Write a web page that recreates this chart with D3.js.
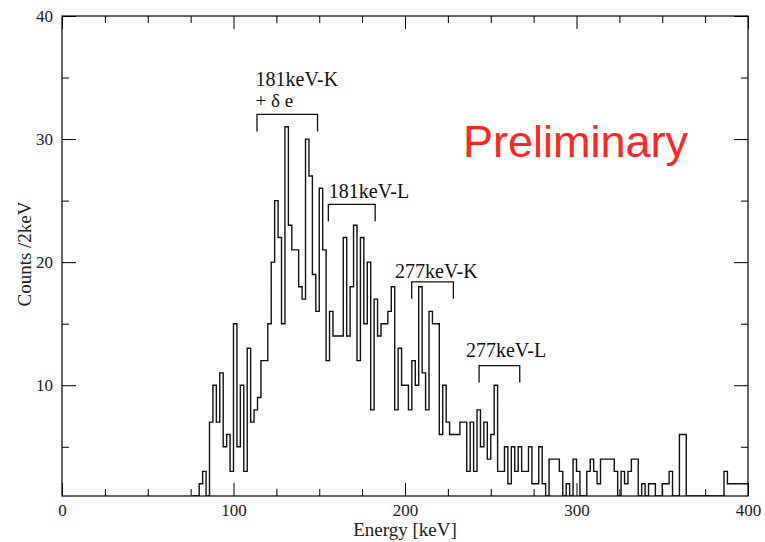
<!DOCTYPE html>
<html>
<head>
<meta charset="utf-8">
<script src="https://cdn.jsdelivr.net/npm/d3@7"></script>
<style>
  html, body { margin: 0; padding: 0; background: #fff; }
  svg { display: block; }
</style>
</head>
<body>
<svg id="chart" width="765" height="542"></svg>
<script>
// Energy spectrum, 2 keV bins starting at 76 keV
const binStart = 76;
const binWidth = 2;
const counts = [
  1, 1, 2, 3, 1, 7, 10, 7, 11, 5,          // 76 - 94
  6, 3, 15, 5, 10, 3, 13, 7, 8, 9,         // 96 - 114
  12, 12, 15, 20, 25, 22, 15, 31, 23, 21,  // 116 - 134
  21, 18, 17, 30, 27, 19, 16, 26, 21, 12,  // 136 - 154
  16, 14, 14, 14, 22, 14, 18, 23, 12, 22,  // 156 - 174
  15, 20, 8, 17, 14, 15, 15, 16, 18, 8,    // 176 - 194
  13, 10, 10, 8, 12, 10, 18, 11, 8, 16,    // 196 - 214
  15, 15, 6, 10, 7, 6, 6, 6, 7, 7,         // 216 - 234
  3, 7, 3, 8, 5, 7, 4, 6, 10, 3,           // 236 - 254
  3, 5, 2, 5, 3, 5, 3, 3, 5, 2,            // 256 - 274
  2, 5, 2, 1, 4, 4, 4, 3, 1, 2,            // 276 - 294
  1, 4, 3, 1, 1, 3, 4, 3, 2, 4,            // 296 - 314
  4, 4, 4, 3, 1, 3, 2, 3, 4, 4,            // 316 - 334
  1, 2, 1, 2, 2, 1, 1, 2, 2, 3,            // 336 - 354
  1, 1, 6, 6, 1, 1, 1, 1, 1, 1,            // 356 - 374
  1, 1, 1, 1, 1, 3, 2, 2, 2, 2,            // 376 - 394
  2, 2                                     // 396 - 398
];

const xTicks = [0, 100, 200, 300, 400];
const xMinorTicks = [25, 50, 75, 125, 150, 175, 225, 250, 275, 325, 350, 375];
const yTicks = [10, 20, 30, 40];
const yMinorTicks = [5, 15, 25, 35];

// Peak group annotations: bracket span in keV, bracket and text baselines in counts
const peakLabels = [
  { lines: [["181keV-K", 34.3, 20], ["+ \u03b4 e", 32.6, 19]], x0: 113.7, x1: 149, y: 32.0, tx: 112.9 },
  { lines: [["181keV-L", 25.2, 20]], x0: 155.3, x1: 182.6, y: 24.7, tx: 155.6 },
  { lines: [["277keV-K", 18.7, 20]], x0: 203.9, x1: 228.2, y: 18.4, tx: 194.2 },
  { lines: [["277keV-L", 12.3, 20]], x0: 243.2, x1: 266.9, y: 11.6, tx: 235.5 }
];

const W = 765, H = 542;
const plot = { left: 62, right: 748, top: 16, bottom: 496 };
const serif = '"Liberation Serif", "DejaVu Serif", serif';

const svg = d3.select("#chart");
svg.append("rect").attr("width", W).attr("height", H).attr("fill", "#fff");

const x = d3.scaleLinear().domain([0, 400]).range([plot.left, plot.right]);
const y = d3.scaleLinear().domain([1, 40]).range([plot.bottom, plot.top]);

// Histogram as a step outline
const edges = counts.map((c, i) => [binStart + i * binWidth, c]);
edges.push([binStart + counts.length * binWidth, counts[counts.length - 1]]);

svg.append("clipPath").attr("id", "plotClip")
  .append("rect")
  .attr("x", plot.left).attr("y", plot.top)
  .attr("width", plot.right - plot.left).attr("height", plot.bottom - plot.top);

const line = d3.line()
  .x(d => x(d[0]))
  .y(d => y(Math.max(d[1], 1)))
  .curve(d3.curveStepAfter);

svg.append("path")
  .datum(edges)
  .attr("clip-path", "url(#plotClip)")
  .attr("d", line)
  .attr("fill", "none")
  .attr("stroke", "#111")
  .attr("stroke-width", 1.4)
  .attr("stroke-linejoin", "miter");

// Axes with inward ticks on all four sides
const tickFont = g => g.selectAll("text")
  .style("font-family", serif)
  .style("font-size", "17px")
  .attr("fill", "#222");

function styleAxis(g) {
  g.select(".domain").remove();
  g.selectAll("line").attr("stroke", "#000").attr("stroke-width", 1);
}

// bottom
svg.append("g").attr("transform", `translate(0,${plot.bottom})`)
  .call(d3.axisBottom(x).tickValues(xTicks).tickFormat(d3.format("d"))
    .tickSizeInner(-13).tickSizeOuter(0).tickPadding(8))
  .call(styleAxis).call(tickFont);
svg.append("g").attr("transform", `translate(0,${plot.bottom})`)
  .call(d3.axisBottom(x).tickValues(xMinorTicks).tickFormat("")
    .tickSizeInner(-7).tickSizeOuter(0))
  .call(styleAxis);
// top
svg.append("g").attr("transform", `translate(0,${plot.top})`)
  .call(d3.axisTop(x).tickValues(xTicks).tickFormat("")
    .tickSizeInner(-13).tickSizeOuter(0))
  .call(styleAxis);
svg.append("g").attr("transform", `translate(0,${plot.top})`)
  .call(d3.axisTop(x).tickValues(xMinorTicks).tickFormat("")
    .tickSizeInner(-7).tickSizeOuter(0))
  .call(styleAxis);
// left
svg.append("g").attr("transform", `translate(${plot.left},0)`)
  .call(d3.axisLeft(y).tickValues(yTicks).tickFormat(d3.format("d"))
    .tickSizeInner(-14).tickSizeOuter(0).tickPadding(9))
  .call(styleAxis).call(tickFont);
svg.append("g").attr("transform", `translate(${plot.left},0)`)
  .call(d3.axisLeft(y).tickValues(yMinorTicks).tickFormat("")
    .tickSizeInner(-7).tickSizeOuter(0))
  .call(styleAxis);
// right
svg.append("g").attr("transform", `translate(${plot.right},0)`)
  .call(d3.axisRight(y).tickValues(yTicks).tickFormat("")
    .tickSizeInner(-14).tickSizeOuter(0))
  .call(styleAxis);
svg.append("g").attr("transform", `translate(${plot.right},0)`)
  .call(d3.axisRight(y).tickValues(yMinorTicks).tickFormat("")
    .tickSizeInner(-7).tickSizeOuter(0))
  .call(styleAxis);

// Frame
svg.append("rect")
  .attr("x", plot.left).attr("y", plot.top)
  .attr("width", plot.right - plot.left).attr("height", plot.bottom - plot.top)
  .attr("fill", "none").attr("stroke", "#000").attr("stroke-width", 1.2);

// Axis titles
svg.append("text")
  .attr("x", (plot.left + plot.right) / 2).attr("y", 536)
  .attr("text-anchor", "middle")
  .style("font-family", serif)
  .style("font-size", "19px").attr("fill", "#222")
  .text("Energy [keV]");

svg.append("text")
  .attr("transform", "translate(31,254) rotate(-90)")
  .attr("text-anchor", "middle")
  .style("font-family", serif)
  .style("font-size", "19px").attr("fill", "#222")
  .text("Counts /2keV");

// Peak group brackets and labels
const ann = svg.append("g");
peakLabels.forEach(p => {
  const yt = y(p.y);
  ann.append("path")
    .attr("d", `M${x(p.x0)},${yt + 17}V${yt}H${x(p.x1)}V${yt + 17}`)
    .attr("fill", "none").attr("stroke", "#111").attr("stroke-width", 1.3);
  p.lines.forEach(([t, ty, fs]) => {
    ann.append("text")
      .attr("x", x(p.tx))
      .attr("y", y(ty))
      .style("font-family", serif)
      .style("font-size", fs + "px").attr("fill", "#111")
      .text(t);
  });
});

svg.append("text")
  .attr("x", 463).attr("y", 157)
  .style("font-family", '"Liberation Sans", Arial, sans-serif')
  .style("font-size", "45px").attr("fill", "#ff2626")
  .text("Preliminary");
</script>
</body>
</html>
